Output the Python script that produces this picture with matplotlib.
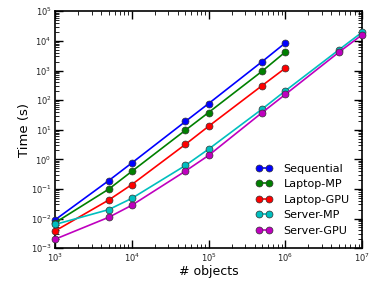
import matplotlib
matplotlib.use("Agg")
import matplotlib.pyplot as plt
from matplotlib.ticker import NullFormatter

n_objects = [1e3, 5e3, 1e4, 5e4, 1e5, 5e5, 1e6, 5e6, 1e7]
series_names = ["Sequential", "Laptop-MP", "Laptop-GPU", "Server-MP", "Server-GPU"]
sequential = [0.009, 0.19, 0.75, 19, 76, 2000, 8500]
laptop_mp = [0.0072, 0.098, 0.39, 9.6, 38, 950, 4200]
laptop_gpu = [0.0038, 0.042, 0.14, 3.2, 13, 310, 1200]
server_mp = [0.0063, 0.020, 0.048, 0.62, 2.2, 50, 205, 5000, 19500]
server_gpu = [0.0020, 0.011, 0.028, 0.40, 1.35, 38, 155, 4150, 16000]
colors = ["#0000ff", "#008000", "#ff0000", "#00bfbf", "#bf00bf"]

fig = plt.figure(figsize=(3.74, 2.82), dpi=100)
ax = fig.add_axes([0.147, 0.12, 0.821, 0.84])

for name, vals, c in zip(series_names,
                         [sequential, laptop_mp, laptop_gpu, server_mp, server_gpu],
                         colors):
    ax.plot(n_objects[:len(vals)], vals, '-o', color=c, lw=1.2, ms=5,
            mec="#333333", mew=0.5, label=name, clip_on=False, zorder=3)

ax.set_xscale("log")
ax.set_yscale("log")
ax.set_xlim(1e3, 1e7)
ax.set_ylim(1e-3, 1e5)
ax.xaxis.set_minor_formatter(NullFormatter())
ax.yaxis.set_minor_formatter(NullFormatter())
ax.tick_params(which="both", direction="in", top=True, right=True,
               labelsize=6, pad=2.5, labelcolor="#222222")
ax.tick_params(which="major", length=6, width=1)
ax.tick_params(which="minor", length=3, width=0.6)
for s in ax.spines.values():
    s.set_linewidth(1.2)
ax.set_xlabel("# objects", fontsize=9, labelpad=1)
ax.set_ylabel("Time (s)", fontsize=9.5, labelpad=0)
ax.legend(loc="lower right", frameon=False, numpoints=2, fontsize=8,
          handlelength=1.5, labelspacing=0.5, borderaxespad=0.7, handletextpad=1.0)
fig.savefig("out.png", dpi=100)
